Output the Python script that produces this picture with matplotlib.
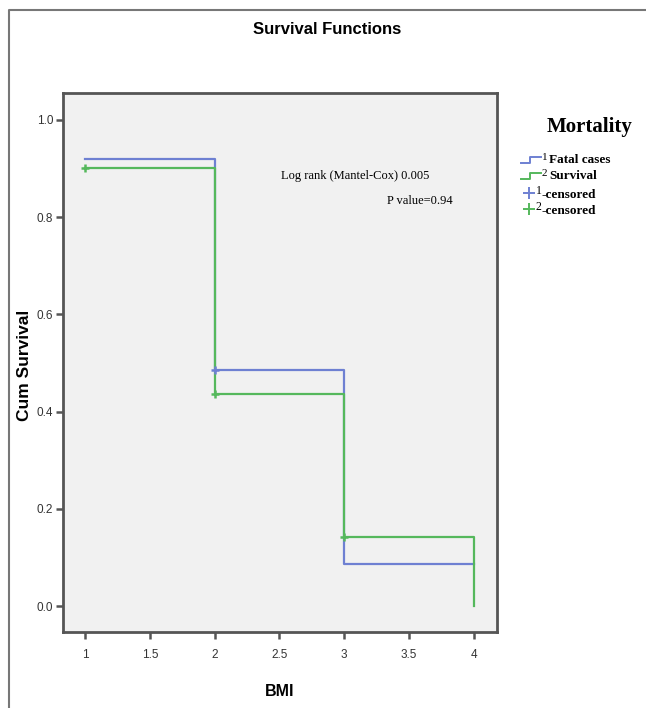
import matplotlib.pyplot as plt
from matplotlib.lines import Line2D

# Curvas de supervivencia (escalones)
bmi = [1, 2, 3, 4]
fatal_surv = [0.92, 0.486, 0.086, 0.086]
survival_surv = [0.90, 0.437, 0.142, 0.0]

# Observaciones censuradas
fatal_cens_x = [2]
fatal_cens_y = [0.486]
surv_cens_x = [1, 2, 3]
surv_cens_y = [0.90, 0.437, 0.142]

xticks = [1, 1.5, 2, 2.5, 3, 3.5, 4]
xticklabels = ['1', '1.5', '2', '2.5', '3', '3.5', '4']
yticks = [0.0, 0.2, 0.4, 0.6, 0.8, 1.0]

blue = '#6E80D2'
green = '#55B85C'
spine_col = '#555555'

fig = plt.figure(figsize=(6.46, 7.08), dpi=100)
ax = fig.add_axes([63 / 646, 1 - 632 / 708, 434 / 646, 539 / 708])
ax.set_facecolor('#F1F1F1')

ax.step(bmi, fatal_surv, where='post', color=blue, lw=1.6)
ax.step(bmi, survival_surv, where='post', color=green, lw=1.6)
ax.plot(fatal_cens_x, fatal_cens_y, '+', color=blue, ms=6, mew=1.8)
ax.plot(surv_cens_x, surv_cens_y, '+', color=green, ms=6, mew=1.8)

ax.set_xlim(0.83, 4.18)
ax.set_ylim(-0.053, 1.055)
ax.set_xticks(xticks)
ax.set_xticklabels(xticklabels)
ax.set_yticks(yticks)
ax.set_yticklabels(['%.1f' % v for v in yticks])
ax.tick_params(direction='out', length=5, width=1.8, color=spine_col,
               labelsize=8.5, labelcolor='#333333', pad=2)
ax.tick_params(axis='x', pad=7)
for s in ax.spines.values():
    s.set_color(spine_col)
    s.set_linewidth(2)

narrow = ['Liberation Sans Narrow', 'Liberation Sans', 'DejaVu Sans']
for lab in ax.get_xticklabels() + ax.get_yticklabels():
    lab.set_family(narrow)

ax.set_xlabel('BMI', fontsize=11.5, fontweight='bold', family=narrow)
ax.xaxis.set_label_coords(0.5, -(692 - 632) / 539)
ax.set_ylabel('Cum Survival', fontsize=12.5, fontweight='bold', family=['Liberation Sans', 'DejaVu Sans'])
ax.yaxis.set_label_coords(-(63 - 25) / 434, 0.495)
ax.xaxis.label.set_va('center')
ax.yaxis.label.set_va('center')

ax.text(2.51, 0.885, 'Log rank (Mantel-Cox) 0.005', fontsize=9,
        family='Liberation Serif', va='center', ha='left')
ax.text(3.84, 0.834, 'P value=0.94', fontsize=9,
        family='Liberation Serif', va='center', ha='right')

fig.text(327 / 646, 1 - 29 / 708, 'Survival Functions', fontsize=12,
         fontweight='bold', family=narrow, ha='center', va='center')

# Leyenda dibujada a mano
fig.text(590 / 646, 1 - 127 / 708, 'Mortality', fontsize=15, fontweight='bold',
         family='Liberation Serif', ha='center', va='center')
legend_rows = [
    ('step', blue, '1', 'Fatal cases'),
    ('step', green, '2', 'Survival'),
    ('plus', blue, '1', '-censored'),
    ('plus', green, '2', '-censored'),
]
row_y = [160, 176, 193, 209]
for (kind, col, num, txt), py in zip(legend_rows, row_y):
    y = 1 - py / 708
    if kind == 'step':
        xs = [521, 530, 530, 541]
        ys = [py + 3, py + 3, py - 3, py - 3]
        fig.add_artist(Line2D([v / 646 for v in xs], [1 - v / 708 for v in ys],
                              color=col, lw=1.4))
        fig.text(542 / 646, y + 2 / 708, num, fontsize=8, family='Liberation Serif', va='center')
        fig.text(549 / 646, y, txt, fontsize=9.5, fontweight='bold',
                 family='Liberation Serif', va='center')
    else:
        fig.add_artist(Line2D([529 / 646], [y], marker='+', color=col, ms=9, mew=1.4))
        fig.text(536 / 646, y + 2 / 708, num, fontsize=8.5, family='Liberation Serif', va='center')
        fig.text(542 / 646, y - 2 / 708, txt, fontsize=9.5, fontweight='bold',
                 family='Liberation Serif', va='center')

# Marco exterior
fig.add_artist(Line2D([9 / 646, 9 / 646, 1], [0, 1 - 10 / 708, 1 - 10 / 708],
                      color='#777777', lw=1.5))

fig.savefig('out.png', dpi=100)
